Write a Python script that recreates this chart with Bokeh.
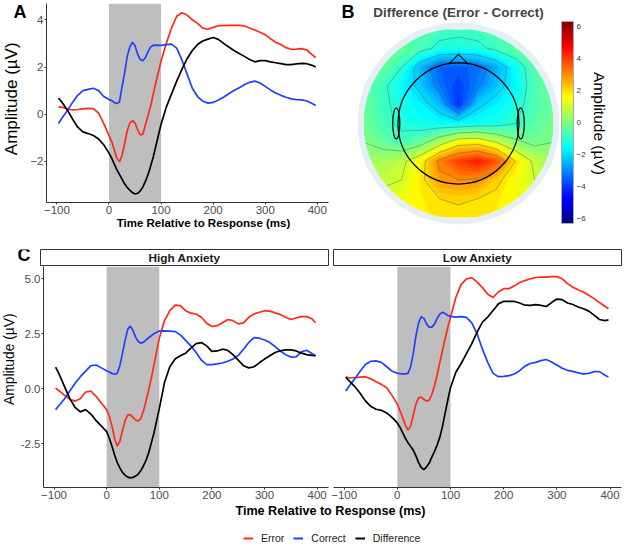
import numpy as np
from bokeh.plotting import figure
from bokeh.layouts import column, row
from bokeh.models import (Range1d, FixedTicker, BoxAnnotation, Label, Legend, LegendItem,
                          ColorBar, LinearColorMapper, Title, NumeralTickFormatter)
from bokeh.embed import file_html
from bokeh.resources import INLINE

FONT = "Liberation Sans"
RED = "#ff2a1a"
BLUE = "#2040ff"
BLACK = "#000000"

# ---------------- data ----------------
TIME_MS = [-97, -90, -80, -70, -60, -50, -40, -30, -20, -10,
           0, 5, 10, 15, 20, 25, 30, 35, 40, 45, 50, 55, 60, 65, 70, 75, 80, 85, 90, 95, 100,
           110, 120, 130, 140, 150, 160, 170, 180, 190, 200, 210, 220, 230, 240, 250, 260, 270, 280, 290,
           300, 310, 320, 330, 340, 350, 360, 370, 380, 390, 397]

# Panel A (grand average)
A_ERROR = [0.30, 0.30, 0.22, 0.18, 0.20, 0.23, 0.25, 0.24, 0.05, -0.40,
           -0.90, -1.15, -1.50, -1.85, -2.02, -1.75, -1.25, -0.70, -0.38, -0.27, -0.38, -0.65, -0.88, -0.85, -0.45, -0.05, 0.35, 0.85, 1.35, 1.80, 2.25,
           3.00, 3.65, 4.15, 4.30, 4.20, 4.00, 3.85, 3.65, 3.60, 3.68, 3.75, 3.75, 3.76, 3.76, 3.76, 3.74, 3.65, 3.57, 3.47,
           3.37, 3.20, 3.05, 2.95, 2.82, 2.75, 2.76, 2.78, 2.72, 2.52, 2.40]
A_CORRECT = [-0.40, -0.15, 0.15, 0.50, 0.80, 1.00, 1.05, 1.10, 1.00, 0.75,
             0.62, 0.58, 0.50, 0.45, 0.52, 1.15, 1.75, 2.45, 2.85, 3.05, 2.90, 2.55, 2.32, 2.27, 2.40, 2.65, 2.85, 2.92, 2.93, 2.92, 2.92,
             2.95, 2.97, 2.80, 2.30, 1.70, 1.10, 0.75, 0.55, 0.47, 0.50, 0.60, 0.72, 0.87, 1.00, 1.12, 1.25, 1.35, 1.40, 1.32,
             1.18, 1.03, 0.90, 0.80, 0.72, 0.65, 0.62, 0.61, 0.56, 0.45, 0.37]
A_DIFF = [0.68, 0.50, 0.18, -0.20, -0.55, -0.75, -0.82, -0.90, -1.05, -1.30,
          -1.65, -1.85, -2.10, -2.35, -2.55, -2.75, -2.95, -3.10, -3.22, -3.32, -3.38, -3.35, -3.25, -3.08, -2.85, -2.55, -2.20, -1.80, -1.35, -0.88, -0.42,
          0.30, 0.85, 1.40, 1.90, 2.35, 2.70, 2.95, 3.10, 3.18, 3.25, 3.17, 3.00, 2.85, 2.70, 2.57, 2.45, 2.32, 2.22, 2.27,
          2.27, 2.22, 2.18, 2.14, 2.10, 2.10, 2.13, 2.15, 2.14, 2.07, 2.00]

# Panel C - High Anxiety
HIGH_ERROR = [0.03, -0.10, -0.30, -0.48, -0.56, -0.45, -0.15, -0.10, -0.35, -0.65,
              -0.95, -1.25, -1.70, -2.25, -2.60, -2.40, -1.90, -1.45, -1.20, -1.18, -1.30, -1.42, -1.47, -1.35, -1.00, -0.55, -0.05, 0.50, 1.10, 1.70, 2.30,
              3.10, 3.55, 3.80, 3.78, 3.55, 3.44, 3.40, 3.25, 2.98, 2.83, 2.87, 3.00, 3.15, 3.10, 2.95, 3.00, 3.25, 3.40, 3.48,
              3.55, 3.53, 3.45, 3.38, 3.25, 3.15, 3.22, 3.28, 3.28, 3.18, 3.00]
HIGH_CORRECT = [-0.95, -0.75, -0.45, -0.10, 0.25, 0.55, 0.80, 1.05, 1.08, 0.95,
                0.82, 0.76, 0.70, 0.66, 0.70, 1.05, 1.60, 2.20, 2.70, 2.85, 2.65, 2.35, 2.15, 2.07, 2.12, 2.22, 2.32, 2.42, 2.50, 2.57, 2.62,
                2.63, 2.62, 2.60, 2.45, 2.20, 1.95, 1.65, 1.30, 1.10, 1.10, 1.13, 1.17, 1.25, 1.35, 1.52, 1.80, 2.10, 2.33, 2.30,
                2.22, 2.10, 1.92, 1.72, 1.55, 1.44, 1.45, 1.68, 1.75, 1.60, 1.50]
HIGH_DIFF = [0.98, 0.65, 0.10, -0.45, -0.85, -1.05, -0.95, -1.15, -1.45, -1.70,
             -1.95, -2.25, -2.60, -3.00, -3.35, -3.60, -3.80, -3.93, -4.02, -4.05, -4.03, -3.97, -3.88, -3.72, -3.50, -3.25, -2.90, -2.45, -2.00, -1.45, -0.90,
             0.30, 1.00, 1.35, 1.50, 1.62, 1.85, 2.05, 2.10, 1.95, 1.70, 1.72, 1.80, 1.75, 1.55, 1.30, 1.05, 0.95, 1.00, 1.18,
             1.35, 1.50, 1.65, 1.73, 1.77, 1.77, 1.72, 1.62, 1.55, 1.52, 1.50]

# Panel C - Low Anxiety
LOW_ERROR = [0.53, 0.50, 0.50, 0.53, 0.55, 0.45, 0.32, 0.20, 0.05, -0.30,
             -0.70, -1.00, -1.30, -1.65, -1.88, -1.70, -1.20, -0.70, -0.40, -0.38, -0.48, -0.56, -0.52, -0.25, 0.15, 0.65, 1.20, 1.75, 2.30, 2.80, 3.25,
             4.15, 4.75, 5.00, 5.05, 4.85, 4.60, 4.30, 4.15, 4.40, 4.55, 4.55, 4.68, 4.83, 4.92, 5.00, 5.06, 5.08, 5.08, 5.10,
             5.10, 5.00, 4.78, 4.62, 4.50, 4.40, 4.25, 4.10, 3.92, 3.75, 3.64]
LOW_CORRECT = [-0.10, 0.15, 0.45, 0.80, 1.10, 1.25, 1.27, 1.20, 1.00, 0.80,
               0.71, 0.69, 0.68, 0.68, 0.70, 1.00, 1.60, 2.40, 3.00, 3.28, 3.20, 2.95, 2.80, 2.80, 2.95, 3.20, 3.40, 3.48, 3.42, 3.33, 3.29,
               3.26, 3.28, 3.25, 3.00, 2.50, 1.80, 1.20, 0.70, 0.55, 0.56, 0.60, 0.67, 0.82, 1.03, 1.15, 1.20, 1.28, 1.33, 1.22,
               1.08, 0.93, 0.84, 0.79, 0.72, 0.68, 0.70, 0.78, 0.78, 0.63, 0.53]
LOW_DIFF = [0.53, 0.35, 0.10, -0.20, -0.55, -0.80, -0.93, -0.98, -1.10, -1.30,
            -1.55, -1.75, -2.00, -2.25, -2.45, -2.62, -2.80, -3.05, -3.36, -3.58, -3.68, -3.55, -3.38, -3.10, -2.85, -2.55, -2.20, -1.70, -1.10, -0.50, 0.05,
            0.75, 1.15, 1.60, 2.05, 2.58, 3.03, 3.26, 3.56, 3.86, 3.98, 3.97, 3.97, 3.90, 3.80, 3.79, 3.83, 3.79, 3.74, 3.92,
            4.08, 4.05, 3.90, 3.83, 3.72, 3.64, 3.53, 3.35, 3.15, 3.10, 3.13]

SERIES_NAMES = ["Error", "Correct", "Difference"]
SERIES_COLORS = [RED, BLUE, BLACK]

X_TICKS = [-100, 0, 100, 200, 300, 400]
A_Y_TICKS = [-2, 0, 2, 4]
C_Y_TICKS = [-2.5, 0.0, 2.5, 5.0]
WINDOW_MS = (0, 100)
FACETS = ["High Anxiety", "Low Anxiety"]
PANEL_LETTERS = ["A", "B", "C"]

# Topographic map (difference, 0-100 ms): values on a grid, rows from front (top) to back
TOPO_U = [-1.0, -0.8, -0.6, -0.4, -0.2, 0.0, 0.2, 0.4, 0.6, 0.8, 1.0]
TOPO_V = [1.0, 0.8, 0.6, 0.4, 0.2, 0.0, -0.2, -0.4, -0.6, -0.8, -1.0]
TOPO_ROWS = [
    [-0.3, -0.4, -0.5, -0.6, -0.7, -0.8, -0.7, -0.6, -0.5, -0.4, -0.3],
    [-0.3, -0.3, -0.3, -0.7, -1.2, -1.3, -1.2, -0.8, -0.4, -0.3, -0.3],
    [-0.2, -0.3, -1.0, -2.5, -3.5, -3.6, -3.4, -2.6, -1.5, -0.5, -0.3],
    [-0.3, -0.8, -1.6, -2.2, -3.3, -4.0, -3.2, -2.3, -1.6, -0.6, -0.3],
    [-0.3, -0.8, -1.3, -1.7, -2.4, -4.2, -2.2, -1.7, -1.3, -0.6, -0.3],
    [-0.2, -0.7, -1.2, -1.4, -1.5, -1.6, -1.4, -1.3, -1.0, -0.5, -0.1],
    [0.0, -0.3, -0.7, -0.3, 0.6, 1.6, 1.7, 1.0, 0.2, -0.2, 0.0],
    [0.4, 0.5, 0.8, 1.6, 3.2, 4.0, 4.5, 3.8, 2.0, 0.8, 0.4],
    [0.8, 0.8, 1.0, 1.8, 2.8, 3.0, 2.9, 2.2, 1.5, 1.0, 0.8],
    [1.2, 1.3, 1.4, 1.7, 2.0, 2.1, 2.0, 1.8, 1.5, 1.3, 1.2],
    [1.5, 1.5, 1.6, 1.7, 1.8, 1.8, 1.8, 1.7, 1.6, 1.5, 1.5],
]
CB_LOW, CB_HIGH = -6.3, 6.3
CB_TICKS = [-6, -4, -2, 0, 2, 4, 6]
CONTOUR_LINE_LEVELS = [-3, -2, -1, 0, 1, 2, 3]

# head drawing geometry (in units of the scalp-disk radius)
RING_R = 1.063
HEAD_R = 0.637
NOSE_X = [-0.105, 0.0, 0.105]
NOSE_Y = [0.628, 0.734, 0.628]
EAR_X = [-0.655, 0.655]
EAR_Y = [0.0, 0.0]
EAR_W, EAR_H = 0.075, 0.33


def jet_hex(t):
    t = min(max(t, 0.0), 1.0)
    r = min(max(1.5 - abs(4 * t - 3), 0), 1)
    g = min(max(1.5 - abs(4 * t - 2), 0), 1)
    b = min(max(1.5 - abs(4 * t - 1), 0), 1)
    return "#%02x%02x%02x" % (int(r * 255), int(g * 255), int(b * 255))


JET256 = [jet_hex(i / 255) for i in range(256)]

X_RANGE = (-120, 421.5)
TICK_COLOR = "#4d4d4d"
AXIS_COLOR = "#333333"


def base_fig(**kw):
    p = figure(output_backend="svg", toolbar_location=None, **kw)
    p.outline_line_color = None
    p.background_fill_color = "white"
    p.border_fill_color = "white"
    return p


def blank_fig(width, height):
    p = base_fig(width=width, height=height, x_range=Range1d(0, 1), y_range=Range1d(0, 1),
                 min_border_left=0, min_border_right=0, min_border_top=0, min_border_bottom=0,
                 x_axis_location=None, y_axis_location=None, title=None)
    p.grid.visible = False
    return p


def style_axis(ax):
    ax.axis_line_color = AXIS_COLOR
    ax.axis_line_width = 1
    ax.major_tick_line_color = AXIS_COLOR
    ax.major_tick_out = 2
    ax.major_tick_in = 0
    ax.minor_tick_line_color = None
    ax.major_label_text_font = FONT
    ax.major_label_text_font_size = "11.5px"
    ax.major_label_text_color = TICK_COLOR
    ax.major_label_standoff = 1


def add_lines(p, series):
    for vals, col in zip(series, SERIES_COLORS):
        p.line(TIME_MS, vals, line_color=col, line_width=1.7)


def add_window(p):
    p.add_layout(BoxAnnotation(left=WINDOW_MS[0], right=WINDOW_MS[1], fill_color="#bebebe",
                               fill_alpha=1.0, line_color=None, level="underlay"))


def text_label(p, text, x, y, size, bold=False, align="left", baseline="alphabetic", angle=0.0, color="black"):
    p.add_layout(Label(x=x, y=y, x_units="screen", y_units="screen", text=text, angle=angle,
                       text_font=FONT, text_font_size=size, text_font_style="bold" if bold else "normal",
                       text_color=color, text_align=align, text_baseline=baseline))


def letter_fig(letter, width, height, x, y_mid):
    """small blank canvas holding a bold panel letter (vertically centred on y_mid)"""
    p = blank_fig(width, height)
    text_label(p, letter, x, y_mid, "18px", bold=True, baseline="middle")
    return p


# ---------------- Row 1 : panel A + panel B ----------------
aL = letter_fig(PANEL_LETTERS[0], 27, 26, 13, 14.5)
aT = blank_fig(27, 210)
text_label(aT, "Amplitude (µV)", 10.5, 137.7, "17px", align="center", baseline="middle", angle=np.pi / 2)

pA = base_fig(width=303, height=217, x_range=Range1d(*X_RANGE), y_range=Range1d(-3.74, 4.69),
              min_border_left=13, min_border_right=2, min_border_top=3, min_border_bottom=15, title=None)
pA.grid.visible = False
add_window(pA)
add_lines(pA, [A_ERROR, A_CORRECT, A_DIFF])
pA.xaxis.ticker = FixedTicker(ticks=X_TICKS)
pA.yaxis.ticker = FixedTicker(ticks=A_Y_TICKS)
for ax in pA.axis:
    style_axis(ax)

tA = blank_fig(303, 19)
text_label(tA, "Time Relative to Response (ms)", 13 + 144, 13.5, "11.5px", bold=True, align="center", baseline="middle")

bL = letter_fig(PANEL_LETTERS[1], 25, 26, 11, 15)
bB = blank_fig(25, 210)

pB = base_fig(width=269, height=236, x_range=Range1d(-1.084, 1.084), y_range=Range1d(-1.084, 1.084),
              min_border_left=0, min_border_right=63, min_border_top=19, min_border_bottom=11,
              x_axis_location=None, y_axis_location=None)
pB.grid.visible = False
z = np.array(TOPO_ROWS, dtype=float)[::-1]
topo_v_asc = TOPO_V[::-1]
fill_levels = [float(v) for v in np.arange(-6.5, 6.51, 0.25)]
band_colors = [jet_hex(((a + b) / 2 - CB_LOW) / (CB_HIGH - CB_LOW))
               for a, b in zip(fill_levels[:-1], fill_levels[1:])]
level_colors = [jet_hex((lv - CB_LOW) / (CB_HIGH - CB_LOW)) for lv in fill_levels]
pB.contour(x=TOPO_U, y=topo_v_asc, z=z, levels=fill_levels, fill_color=band_colors,
           line_color=level_colors, line_width=1.0)
pB.contour(x=TOPO_U, y=topo_v_asc, z=z, levels=CONTOUR_LINE_LEVELS, fill_color=None,
           line_color="#4a4a4a", line_alpha=0.55, line_width=0.7)
pB.annulus(x=[0], y=[0], inner_radius=1.0, outer_radius=RING_R, fill_color="#e6eef8", line_color=None)
pB.annulus(x=[0], y=[0], inner_radius=RING_R, outer_radius=1.8, fill_color="white", line_color=None)
pB.circle(x=[0], y=[0], radius=HEAD_R, fill_color=None, line_color="black", line_width=1.2)
pB.line(NOSE_X, NOSE_Y, line_color="black", line_width=1.2)
pB.ellipse(x=EAR_X, y=EAR_Y, width=EAR_W, height=EAR_H, fill_color=None, line_color="black", line_width=1.2)

mapper = LinearColorMapper(palette=JET256, low=CB_LOW, high=CB_HIGH)
cb = ColorBar(color_mapper=mapper, ticker=FixedTicker(ticks=CB_TICKS), width=12, height=202,
              padding=0, margin=2, label_standoff=3, major_tick_line_color=None,
              major_label_text_font=FONT, major_label_text_font_size="8px",
              major_label_text_color="#333333", bar_line_color="#aaaaaa",
              background_fill_alpha=0, border_line_color=None)
pB.add_layout(cb, "right")
pB.add_layout(Title(text="Amplitude (µV)", align="center", text_font=FONT, text_font_size="15.5px",
                    text_font_style="normal", text_color="black", standoff=4), "right")
pB.title.text = "Difference (Error - Correct)"
pB.title.align = "center"
pB.title.text_font = FONT
pB.title.text_font_size = "13.4px"
pB.title.text_font_style = "bold"
pB.title.standoff = 4

row1 = row(column(aL, aT), column(pA, tA), column(bL, bB), pB)

# ---------------- Row 2 : panel C ----------------
def strip_fig(text, width, bl, br):
    s = base_fig(width=width, height=30, x_range=Range1d(0, 1), y_range=Range1d(0, 1),
                 min_border_left=bl, min_border_right=br, min_border_top=13, min_border_bottom=0,
                 x_axis_location=None, y_axis_location=None, title=None)
    s.grid.visible = False
    s.outline_line_color = AXIS_COLOR
    s.outline_line_width = 1
    s.add_layout(Label(x=0.5, y=0.5, text=text, text_align="center", text_baseline="middle",
                       text_font=FONT, text_font_size="11.8px", text_font_style="bold",
                       text_color="#1a1a1a"))
    return s


cL = letter_fig(PANEL_LETTERS[2], 40, 30, 17, 12)
sH = strip_fig(FACETS[0], 290, 0, 2)
sL = strip_fig(FACETS[1], 294, 3, 3)

C_Y_RANGE = (-4.49, 5.56)
cT = blank_fig(17, 237)
text_label(cT, "Amplitude (µV)", 8.6, 128.3, "13.8px", align="center", baseline="middle", angle=np.pi / 2)

pH = base_fig(width=313, height=237, x_range=Range1d(*X_RANGE), y_range=Range1d(*C_Y_RANGE),
              min_border_left=23, min_border_right=2, min_border_top=0, min_border_bottom=16, title=None)
pL = base_fig(width=294, height=237, x_range=Range1d(*X_RANGE), y_range=Range1d(*C_Y_RANGE),
              min_border_left=3, min_border_right=3, min_border_top=0, min_border_bottom=16,
              y_axis_location=None, title=None)
for p, series in [(pH, [HIGH_ERROR, HIGH_CORRECT, HIGH_DIFF]), (pL, [LOW_ERROR, LOW_CORRECT, LOW_DIFF])]:
    p.grid.visible = False
    add_window(p)
    add_lines(p, series)
    p.xaxis.ticker = FixedTicker(ticks=X_TICKS)
    for ax in p.axis:
        style_axis(ax)
pH.yaxis.ticker = FixedTicker(ticks=C_Y_TICKS)
pH.yaxis.formatter = NumeralTickFormatter(format="0.0")

row2 = column(row(cL, sH, sL), row(cT, pH, pL))

# ---------------- Row 3 : shared x title + legend ----------------
p3 = base_fig(width=624, height=41, x_range=Range1d(10000, 10001), y_range=Range1d(10000, 10001),
              min_border_left=0, min_border_right=0, min_border_top=0, min_border_bottom=0,
              x_axis_location=None, y_axis_location=None, title=None)
p3.grid.visible = False
text_label(p3, "Time Relative to Response (ms)", 330, 34, "12.6px", bold=True, align="center", baseline="middle")
items = []
for name, col, vals in zip(SERIES_NAMES, SERIES_COLORS, [A_ERROR, A_CORRECT, A_DIFF]):
    r = p3.line(TIME_MS, vals, line_color=col, line_width=2)
    items.append(LegendItem(label=name, renderers=[r]))
legend = Legend(items=items, orientation="horizontal", location=(243, 0),
                glyph_width=10, glyph_height=12, label_height=12, label_standoff=8, spacing=9,
                padding=2, margin=0, border_line_color=None, background_fill_alpha=0,
                label_text_font=FONT, label_text_font_size="10.5px", label_text_color="#222222")
p3.add_layout(legend)

layout = column(row1, row2, p3)

with open("out.html", "w") as f:
    f.write(file_html(layout, INLINE))
